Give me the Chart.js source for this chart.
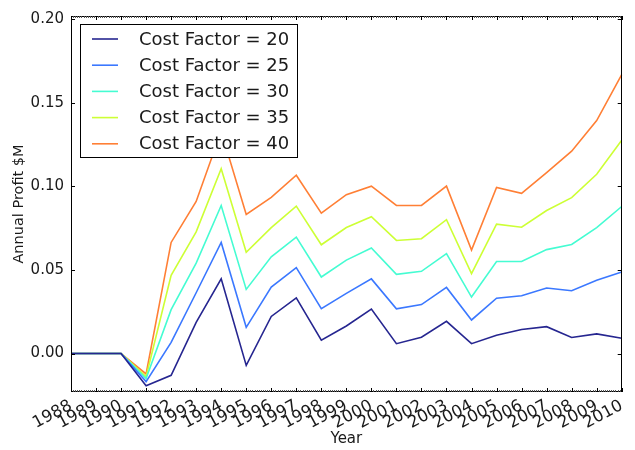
<!DOCTYPE html>
<html>
<head>
<meta charset="utf-8">
<script src="https://cdn.jsdelivr.net/npm/chart.js@4"></script>
<style>
  html, body { margin: 0; padding: 0; background: #fff; }
  #wrap { width: 635px; height: 450px; position: relative; }
</style>
</head>
<body>
<div id="wrap"><canvas id="c"></canvas></div>
<script>
// Annual profit ($M) per year for each cost factor
const years = ['1988','1989','1990','1991','1992','1993','1994','1995','1996','1997','1998',
               '1999','2000','2001','2002','2003','2004','2005','2006','2007','2008','2009','2010'];
const seriesNames = ['Cost Factor = 20','Cost Factor = 25','Cost Factor = 30','Cost Factor = 35','Cost Factor = 40'];
const cf20 = [0,0,0,-0.0193,-0.0130,0.0187,0.0447,-0.0071,0.0222,0.0333,0.0080,0.0165,0.0266,0.0059,0.0098,0.0193,0.0059,0.0110,0.0144,0.0161,0.0096,0.0118,0.0092];
const cf25 = [0,0,0,-0.0168,0.0067,0.0364,0.0665,0.0157,0.0398,0.0514,0.0269,0.0360,0.0447,0.0268,0.0293,0.0396,0.0201,0.0331,0.0346,0.0392,0.0376,0.0439,0.0488];
const cf30 = [0,0,0,-0.0150,0.0263,0.0541,0.0886,0.0384,0.0579,0.0697,0.0458,0.0559,0.0632,0.0474,0.0492,0.0598,0.0338,0.0551,0.0551,0.0622,0.0653,0.0754,0.0880];
const cf35 = [0,0,0,-0.0138,0.0468,0.0728,0.1106,0.0606,0.0754,0.0882,0.0651,0.0754,0.0819,0.0677,0.0687,0.0801,0.0478,0.0774,0.0756,0.0856,0.0933,0.1073,0.1276];
const cf40 = [0,0,0,-0.0122,0.0665,0.0910,0.1330,0.0833,0.0935,0.1067,0.0840,0.0951,0.1002,0.0886,0.0886,0.1002,0.0620,0.0994,0.0959,0.1083,0.1211,0.1394,0.1669];
const yTicks = [0, 0.05, 0.10, 0.15, 0.20];

const colors = ['#262690', '#3b78ff', '#45fcd2', '#cdff35', '#ff7f35'];
const FONT = 'DejaVu Sans';

// Matplotlib-style frame: inward major ticks on all sides, dense minor ticks on x, boxed legend
const framePlugin = {
  id: 'frame',
  afterDraw(chart) {
    const { ctx, chartArea: a, scales } = chart;
    const xs = scales.x, ys = scales.y;
    ctx.save();
    ctx.strokeStyle = '#000';
    ctx.lineWidth = 1;
    ctx.strokeRect(Math.round(a.left) + 0.5, Math.round(a.top) + 0.5,
                   Math.round(a.right - a.left) - 1, Math.round(a.bottom - a.top) - 1);
    ctx.beginPath();
    // y major ticks, left and right
    ys.ticks.forEach(t => {
      const y = Math.round(ys.getPixelForValue(t.value)) + 0.5;
      ctx.moveTo(a.left, y); ctx.lineTo(a.left + 4, y);
      ctx.moveTo(a.right, y); ctx.lineTo(a.right - 4, y);
    });
    // x major ticks, bottom and top
    for (let i = 0; i < years.length; i++) {
      const x = Math.round(xs.getPixelForValue(i)) + 0.5;
      ctx.moveTo(x, a.bottom); ctx.lineTo(x, a.bottom - 4);
      ctx.moveTo(x, a.top); ctx.lineTo(x, a.top + 4);
    }
    ctx.stroke();
    // x minor ticks (monthly)
    ctx.beginPath();
    ctx.strokeStyle = '#555';
    for (let i = 0; i < years.length - 1; i++) {
      for (let m = 1; m < 12; m++) {
        const x = Math.round(xs.getPixelForValue(i + m / 12)) + 0.5;
        ctx.moveTo(x, a.bottom); ctx.lineTo(x, a.bottom - 2);
        ctx.moveTo(x, a.top); ctx.lineTo(x, a.top + 2);
      }
    }
    ctx.stroke();

    // legend box
    const bx = a.left + 9, by = a.top + 8, bw = 217, bh = 133;
    ctx.fillStyle = '#fff';
    ctx.fillRect(bx, by, bw, bh);
    ctx.strokeStyle = '#000';
    ctx.strokeRect(bx + 0.5, by + 0.5, bw, bh);
    ctx.font = '18px "' + FONT + '"';
    ctx.textBaseline = 'middle';
    ctx.fillStyle = '#1a1a1a';
    chart.data.datasets.forEach((ds, i) => {
      const cy = by + 15 + i * 26.2;
      ctx.strokeStyle = ds.borderColor;
      ctx.lineWidth = 1.6;
      ctx.beginPath();
      ctx.moveTo(bx + 12, cy); ctx.lineTo(bx + 38, cy);
      ctx.stroke();
      ctx.fillText(ds.label, bx + 59, cy + 1);
    });
    ctx.restore();
  }
};

const seriesValues = [cf20, cf25, cf30, cf35, cf40];

new Chart(document.getElementById('c'), {
  type: 'line',
  data: {
    labels: years,
    datasets: seriesValues.map((vals, i) => ({
      label: seriesNames[i],
      data: vals,
      borderColor: colors[i],
      backgroundColor: colors[i],
      borderWidth: 1.6,
      pointRadius: 0,
      tension: 0,
      fill: false
    }))
  },
  options: {
    responsive: true,
    maintainAspectRatio: false,
    animation: false,
    devicePixelRatio: 1,
    layout: { padding: { top: 12, right: 2, left: 0, bottom: 0 } },
    plugins: {
      legend: { display: false },
      tooltip: { enabled: false }
    },
    scales: {
      x: {
        type: 'category',
        offset: false,
        grid: { display: false, drawTicks: false },
        border: { display: false },
        ticks: {
          color: '#1a1a1a',
          font: { family: FONT, size: 16.5 },
          minRotation: 28,
          maxRotation: 28,
          autoSkip: false,
          padding: 4
        },
        title: {
          display: true,
          text: 'Year',
          color: '#1a1a1a',
          font: { family: FONT, size: 15 },
          padding: { top: 0, bottom: 2 }
        },
        afterFit(scale) { scale.height = 58; }
      },
      y: {
        min: -0.023,
        max: 0.202,
        grid: { display: false, drawTicks: false },
        border: { display: false },
        afterBuildTicks(scale) { scale.ticks = yTicks.map(v => ({ value: v })); },
        ticks: {
          color: '#1a1a1a',
          font: { family: FONT, size: 15 },
          padding: 7,
          callback: v => Number(v).toFixed(2)
        },
        title: {
          display: true,
          text: 'Annual Profit $M',
          color: '#1a1a1a',
          font: { family: FONT, size: 14.5 },
          padding: { top: 11, bottom: 0 }
        },
        afterFit(scale) { scale.width = 71; }
      }
    }
  },
  plugins: [framePlugin]
});
</script>
</body>
</html>
